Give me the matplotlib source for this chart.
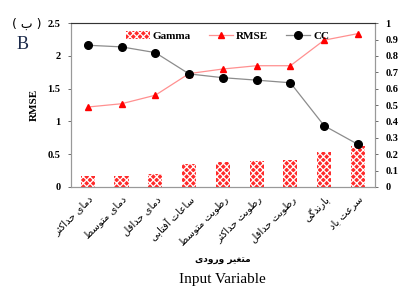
import matplotlib
matplotlib.use("Agg")
import matplotlib.pyplot as plt
import numpy as np

# --- data ---
variables = ["دمای حداکثر", "دمای متوسط", "دمای حداقل", "ساعات آفتابی", "رطوبت متوسط",
             "رطوبت حداکثر", "رطوبت حداقل", "بارندگی", "سرعت باد"]
gamma = [0.16, 0.16, 0.20, 0.35, 0.38, 0.39, 0.41, 0.53, 0.62]
rmse = [1.22, 1.27, 1.40, 1.73, 1.80, 1.85, 1.85, 2.24, 2.34]
cc = [0.865, 0.855, 0.82, 0.69, 0.667, 0.652, 0.636, 0.374, 0.26]

# simple Persian shaping (matplotlib has no bidi / joining support)
FORMS = {
    "ا": ("\ufe8d", "\ufe8e"), "آ": ("\ufe81", "\ufe82"),
    "د": ("\ufea9", "\ufeaa"), "ر": ("\ufead", "\ufeae"),
    "ز": ("\ufeaf", "\ufeb0"), "و": ("\ufeed", "\ufeee"),
    "ب": ("\ufe8f", "\ufe90", "\ufe91", "\ufe92"),
    "ت": ("\ufe95", "\ufe96", "\ufe97", "\ufe98"),
    "ث": ("\ufe99", "\ufe9a", "\ufe9b", "\ufe9c"),
    "ح": ("\ufea1", "\ufea2", "\ufea3", "\ufea4"),
    "س": ("\ufeb1", "\ufeb2", "\ufeb3", "\ufeb4"),
    "ط": ("\ufec1", "\ufec2", "\ufec3", "\ufec4"),
    "ع": ("\ufec9", "\ufeca", "\ufecb", "\ufecc"),
    "غ": ("\ufecd", "\ufece", "\ufecf", "\ufed0"),
    "ف": ("\ufed1", "\ufed2", "\ufed3", "\ufed4"),
    "ق": ("\ufed5", "\ufed6", "\ufed7", "\ufed8"),
    "ل": ("\ufedd", "\ufede", "\ufedf", "\ufee0"),
    "م": ("\ufee1", "\ufee2", "\ufee3", "\ufee4"),
    "ن": ("\ufee5", "\ufee6", "\ufee7", "\ufee8"),
    "ی": ("\ufbfc", "\ufbfd", "\ufbfe", "\ufbff"),
    "ک": ("\ufb8e", "\ufb8f", "\ufb90", "\ufb91"),
    "گ": ("\ufb92", "\ufb93", "\ufb94", "\ufb95"),
}


def shape(text):
    out = []
    for i, ch in enumerate(text):
        if ch not in FORMS:
            out.append(ch)
            continue
        prev = text[i - 1] if i > 0 else ""
        nxt = text[i + 1] if i + 1 < len(text) else ""
        jp = prev in FORMS and len(FORMS[prev]) == 4
        jn = nxt in FORMS and len(FORMS[ch]) == 4
        f = FORMS[ch]
        if jp and jn:
            out.append(f[3])
        elif jp:
            out.append(f[1])
        elif jn:
            out.append(f[2])
        else:
            out.append(f[0])
    return "".join(out)[::-1]


plt.rcParams["font.family"] = ["Liberation Serif", "DejaVu Serif"]
plt.rcParams["hatch.linewidth"] = 0.9

fig = plt.figure(figsize=(4.03, 2.89), dpi=100)
ax = fig.add_axes([0.176, 0.353, 0.754, 0.567])
ax2 = ax.twinx()

x = np.arange(len(variables))
bars = ax.bar(x, gamma, width=0.42, color="#ff2a2a", edgecolor="white",
              hatch="xxxxx", linewidth=0, label="Gamma")
line_rmse, = ax.plot(x, rmse, color="#ff9090", lw=0.9, marker="^", markersize=5,
                     markerfacecolor="red", markeredgecolor="red", label="RMSE")
line_cc, = ax2.plot(x, cc, color="#8c8c8c", lw=0.9, marker="o", markersize=5.5,
                    markerfacecolor="black", markeredgecolor="black", label="CC")

ax.set_xlim(-0.5, len(variables) - 0.5)
ax.set_ylim(0, 2.5)
ax2.set_ylim(0, 1)
ax.set_yticks([0, 0.5, 1, 1.5, 2, 2.5])
ax.set_yticklabels(["0", "0.5", "1", "1.5", "2", "2.5"])
ax2.set_yticks(np.arange(0, 1.01, 0.1))
ax2.set_yticklabels(["0", "0.1", "0.2", "0.3", "0.4", "0.5", "0.6", "0.7", "0.8", "0.9", "1"])

for a in (ax, ax2):
    a.tick_params(axis="y", labelsize=7.5, length=2.5, width=0.6, color="#555555", pad=5)
    for lab in a.get_yticklabels():
        lab.set_fontweight("bold")
    for s in a.spines.values():
        s.set_color("#999999")
        s.set_linewidth(0.8)
ax2.spines["top"].set_color("#333333")

ax.set_xticks(x)
ax.set_xticklabels([shape(v) for v in variables], rotation=45, ha="right",
                   rotation_mode="anchor", fontsize=7.2, family="DejaVu Sans")
ax.tick_params(axis="x", length=0, pad=5)

ax.set_ylabel("RMSE", fontsize=8, fontweight="bold", labelpad=6)

ax2.legend([bars, line_rmse, line_cc], ["Gamma", "RMSE", "CC"], loc="center left", ncol=3,
           frameon=False, prop={"weight": "bold", "size": 8},
           bbox_to_anchor=(0.18, 0.92), borderaxespad=0, borderpad=0,
           handlelength=2.2, columnspacing=1.6, handletextpad=0.25)

fig.text(0.03, 0.905, "( " + shape("ب") + " )", fontsize=9, family="DejaVu Sans", ha="left")
fig.text(0.04, 0.83, "B", fontsize=13, color="#1c2a4a", ha="left")
fig.text(0.553, 0.095, shape("متغیر ورودی"), fontsize=6.5, fontweight="bold",
         family="DejaVu Sans", ha="center")
fig.text(0.553, 0.02, "Input Variable", fontsize=11, ha="center")

fig.savefig("out.png", dpi=100)
